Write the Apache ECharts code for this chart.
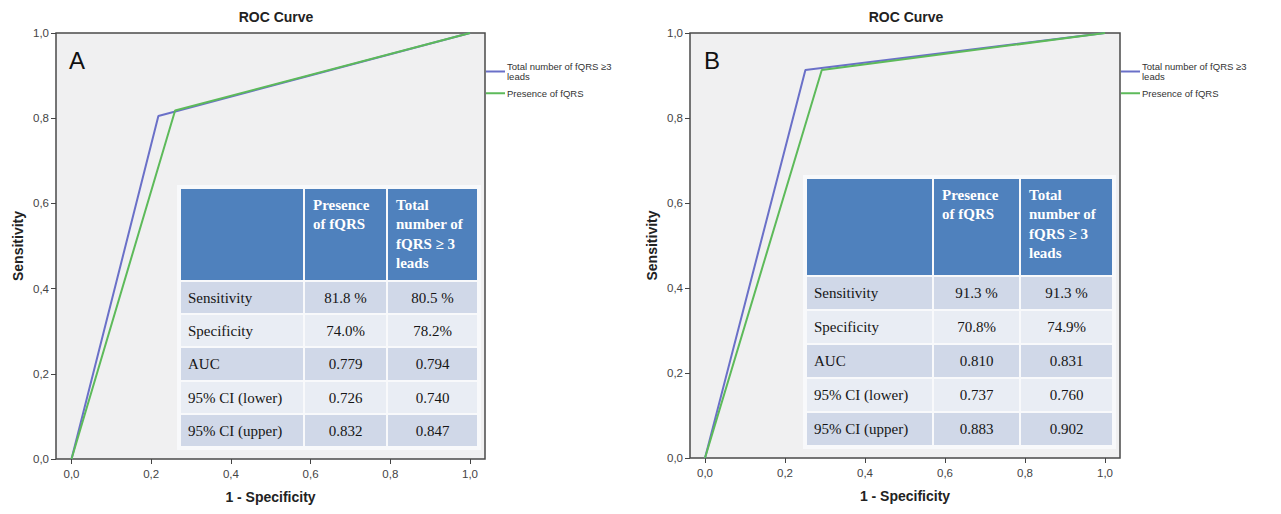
<!DOCTYPE html>
<html>
<head>
<meta charset="utf-8">
<script src="https://cdn.jsdelivr.net/npm/echarts@6/dist/echarts.min.js"></script>
<style>
  html, body { margin: 0; padding: 0; background: #fff; }
  #roc { width: 1281px; height: 514px; }
</style>
</head>
<body>
<div id="roc"></div>
<script>
// ROC points: [1 - specificity, sensitivity]
var totalA = [[0, 0], [0.218, 0.805], [1, 1]];
var presenceA = [[0, 0], [0.260, 0.818], [1, 1]];
var totalB = [[0, 0], [0.251, 0.913], [1, 1]];
var presenceB = [[0, 0], [0.292, 0.913], [1, 1]];

var ticks = [0, 0.2, 0.4, 0.6, 0.8, 1];
var totalName = 'Total number of fQRS \u22653\nleads';
var presenceName = 'Presence of fQRS';

// table contents
var colHeaders = ['', 'Presence\nof fQRS', 'Total\nnumber of\nfQRS \u2265 3\nleads'];
var rowLabels = ['Sensitivity', 'Specificity', 'AUC', '95% CI (lower)', '95% CI (upper)'];
var tblPresenceA = ['81.8 %', '74.0%', '0.779', '0.726', '0.832'];
var tblTotalA = ['80.5 %', '78.2%', '0.794', '0.740', '0.847'];
var tblPresenceB = ['91.3 %', '70.8%', '0.810', '0.737', '0.883'];
var tblTotalB = ['91.3 %', '74.9%', '0.831', '0.760', '0.902'];

var blue = '#6a70c8';
var green = '#5dba5a';
var serif = '"Liberation Serif", "Times New Roman", serif';
var sans = '"Liberation Sans", Arial, sans-serif';

function fmt(v) { return v.toFixed(1).replace('.', ','); }

function xAxisFor(idx, min, max) {
    return {
        type: 'value', gridIndex: idx, min: min, max: max,
        name: '1 - Specificity', nameLocation: 'middle', nameGap: 31,
        nameTextStyle: { fontFamily: sans, fontWeight: 'bold', fontSize: 14, color: '#222' },
        axisLine: { show: false, onZero: false },
        axisTick: { show: true, inside: false, length: 5, customValues: ticks, lineStyle: { color: '#444' } },
        axisLabel: { customValues: ticks, formatter: fmt, margin: 9, fontFamily: sans, fontSize: 11.5, color: '#444' },
        splitLine: { show: false }
    };
}

function yAxisFor(idx) {
    return {
        type: 'value', gridIndex: idx, min: 0, max: 1,
        name: 'Sensitivity', nameLocation: 'middle', nameGap: 31,
        nameTextStyle: { fontFamily: sans, fontWeight: 'bold', fontSize: 14, color: '#222' },
        axisLine: { show: false, onZero: false },
        axisTick: { show: true, inside: false, length: 5, customValues: ticks, lineStyle: { color: '#444' } },
        axisLabel: { customValues: ticks, formatter: fmt, margin: 7, fontFamily: sans, fontSize: 11.5, color: '#444' },
        splitLine: { show: false }
    };
}

function lineSeries(name, data, color, idx) {
    return {
        name: name, type: 'line', data: data, xAxisIndex: idx, yAxisIndex: idx,
        symbol: 'none', animation: false,
        lineStyle: { color: color, width: 2 }, itemStyle: { color: color }
    };
}

function buildTable(cols, rows, colA, colB) {
    var els = [];
    var x0 = cols[0], x1 = cols[cols.length - 1];
    els.push({ type: 'rect', shape: { x: x0 - 3, y: rows[0] - 3, width: x1 - x0 + 6, height: rows[rows.length - 1] - rows[0] + 6 },
        style: { fill: '#f8f9fb' }, z: 10 });
    for (var r = 0; r < rows.length - 1; r++) {
        var fill = r === 0 ? '#4f81bd' : (r % 2 === 1 ? '#d0d8e8' : '#e9edf4');
        for (var c = 0; c < cols.length - 1; c++) {
            var cx = cols[c], cw = cols[c + 1] - cols[c];
            var cy = rows[r], ch = rows[r + 1] - rows[r];
            els.push({ type: 'rect', shape: { x: cx + 1, y: cy + 1, width: cw - 2, height: ch - 2 }, style: { fill: fill }, z: 11 });
            var st;
            if (r === 0) {
                st = { text: colHeaders[c], x: cx + 9, y: cy + 7, fill: '#fff', font: 'bold 15px ' + serif, lineHeight: 19.5, textAlign: 'left', textVerticalAlign: 'top' };
            } else if (c === 0) {
                st = { text: rowLabels[r - 1], x: cx + 8, y: cy + ch / 2, fill: '#151515', font: '15px ' + serif, textAlign: 'left', textVerticalAlign: 'middle' };
            } else {
                st = { text: (c === 1 ? colA : colB)[r - 1], x: cx + cw / 2, y: cy + ch / 2, fill: '#151515', font: '15px ' + serif, textAlign: 'center', textVerticalAlign: 'middle' };
            }
            if (st.text) els.push({ type: 'text', style: st, z: 12 });
        }
    }
    return els;
}

var chart = echarts.init(document.getElementById('roc'), null, { renderer: 'svg' });

var graphics = [
    { type: 'text', style: { text: 'ROC Curve', x: 276, y: 17, font: 'bold 14px ' + sans, fill: '#222', textAlign: 'center', textVerticalAlign: 'middle' } },
    { type: 'text', style: { text: 'ROC Curve', x: 906, y: 17, font: 'bold 14px ' + sans, fill: '#222', textAlign: 'center', textVerticalAlign: 'middle' } },
    { type: 'text', style: { text: 'A', x: 69, y: 60, font: '24px ' + sans, fill: '#111', textVerticalAlign: 'middle' }, z: 5 },
    { type: 'text', style: { text: 'B', x: 704, y: 60, font: '24px ' + sans, fill: '#111', textVerticalAlign: 'middle' }, z: 5 }
];
graphics = graphics
    .concat(buildTable([180, 304, 387, 478], [188, 281, 314, 347, 381, 414, 447], tblPresenceA, tblTotalA))
    .concat(buildTable([806, 933, 1020, 1113], [178, 276, 310, 344, 378, 412, 446], tblPresenceB, tblTotalB));

function legendAt(left) {
    return {
        data: [totalName, presenceName], left: left, top: 61, orient: 'vertical',
        icon: 'rect', itemWidth: 19, itemHeight: 2, itemGap: 6, padding: 0,
        textStyle: { fontFamily: sans, fontSize: 9.5, lineHeight: 10.5, color: '#333', padding: [0, 0, 0, -3] }
    };
}

chart.setOption({
    animation: false,
    legend: [legendAt(486), legendAt(1121)],
    grid: [
        { left: 56, top: 33, width: 429, height: 426, show: true, backgroundColor: '#f0f0f1', borderColor: '#4a4a4a', borderWidth: 1.5 },
        { left: 690, top: 33, width: 430, height: 425, show: true, backgroundColor: '#f0f0f1', borderColor: '#4a4a4a', borderWidth: 1.5 }
    ],
    xAxis: [xAxisFor(0, -0.0389, 1.0376), xAxisFor(1, -0.0375, 1.0375)],
    yAxis: [yAxisFor(0), yAxisFor(1)],
    series: [
        lineSeries(totalName, totalA, blue, 0),
        lineSeries(presenceName, presenceA, green, 0),
        lineSeries(totalName, totalB, blue, 1),
        lineSeries(presenceName, presenceB, green, 1)
    ],
    graphic: graphics
});
</script>
</body>
</html>
